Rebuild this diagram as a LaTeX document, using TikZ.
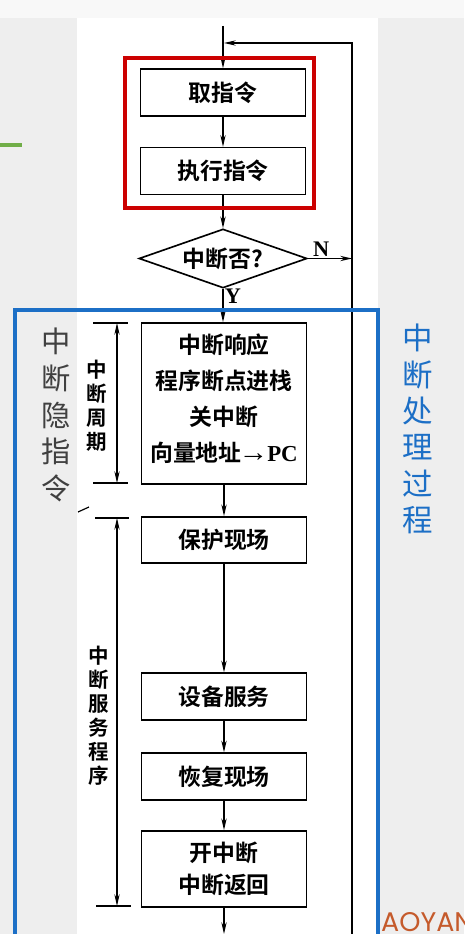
\documentclass[tikz,border=0pt]{standalone}
\usepackage{fontspec}
\usepackage{tikz}
\usetikzlibrary{shapes.geometric,arrows.meta}
\setmainfont{Liberation Serif}
\setsansfont{Poppins}
\newfontfamily\cjk{Noto Sans CJK SC}[BoldFont={Noto Sans CJK SC Bold}]

\definecolor{slidegray}{HTML}{EEEEEE}
\definecolor{frred}{HTML}{CC0000}
\definecolor{frblue}{HTML}{1C6FC6}
\definecolor{barg}{HTML}{70AD47}
\definecolor{wmark}{HTML}{C55A2B}

\newcommand{\boxfont}{\cjk\bfseries\fontsize{19.5}{31}\selectfont}

\tikzset{
  box/.style={draw, line width=1.4pt, minimum width=4.95cm, minimum height=1.4cm,
    inner sep=0pt, align=center, font=\boxfont},
  decision/.style={draw, diamond, aspect=2.85, line width=1.4pt, minimum width=5.04cm,
    minimum height=1.77cm, inner sep=0pt, font=\boxfont},
  flow/.style={line width=1.2pt, -{Stealth[length=10pt,width=4.5pt]}},
  dimtick/.style={line width=1.2pt},
  dimline/.style={line width=1.1pt, {Stealth[length=10pt,width=4.5pt]}-{Stealth[length=10pt,width=4.5pt]}},
  sidelabel/.style={align=center, inner sep=0pt, font=\cjk\bfseries\fontsize{17.5}{20.5}\selectfont},
  yn/.style={font=\bfseries\fontsize{19}{19}\selectfont, inner sep=1pt}
}

\begin{document}
\begin{tikzpicture}[x=0.03cm,y=-0.03cm]
\useasboundingbox (0,0) rectangle (464,934);

% slide background and scanned page
\fill[slidegray] (0,0) rectangle (464,934);
\fill[white!60!slidegray] (0,0) rectangle (464,18);
\fill[white] (77,18) rectangle (378,934);
\fill[barg] (0,143) rectangle (22,147);

% flow boxes
\node[box] (fetch) at (223,92.5) {取指令};
\node[box] (exec) at (223,171) {执行指令};
\node[decision] (ask) at (223,258.5) {中断否?};
\node[box, minimum height=4.83cm] (resp) at (224,403.5)
  {中断响应\\程序断点进栈\\关中断\\向量地址{\normalfont\bfseries\kern-2.5pt\scalebox{1.3}[1.2]{→}\kern-1pt PC}\\[-21pt]\mbox{}};
\node[box, minimum height=1.38cm] (save) at (224,540) {保护现场};
\node[box] (serve) at (224,696.5) {设备服务};
\node[box] (restore) at (224,776.5) {恢复现场};
\node[box, minimum height=2.28cm, font=\cjk\bfseries\fontsize{19.5}{27}\selectfont] (ret) at (224,869) {开中断\\中断返回};

% loop and connectors
\coordinate (top) at (223,26);
\coordinate (join) at (224,43);
\coordinate (loopT) at (352,43);
\coordinate (loopB) at (352,940);
\coordinate (nret) at (352,258.5);
\coordinate (bottom) at (224,934);

\draw[flow] (top) -- (fetch);
\draw[flow] (loopB) -- (loopT) -- (join);
\draw[flow] (fetch) -- (exec);
\draw[flow] (exec) -- (ask);
\draw[flow] (ask.east) -- node[yn, pos=0.3, above] {N} (nret);
\draw[flow] (ask.south) -- node[yn, pos=0.22, right] {Y} (resp.north -| ask.south);
\draw[flow] (resp) -- (save);
\draw[flow] (save) -- (serve);
\draw[flow] (serve) -- (restore);
\draw[flow] (restore) -- (ret);
\draw[flow] (ret) -- (bottom);

% dimension: interrupt cycle
\coordinate (c1a) at (93,323);
\coordinate (c1b) at (128,323);
\coordinate (c1c) at (93,483);
\coordinate (c1d) at (128,483);
\draw[dimtick] (c1a) -- (c1b);
\draw[dimtick] (c1c) -- (c1d);
\draw[dimline] (117,323) -- (117,483);
\node[sidelabel] (cyc) at (97,406) {中\\断\\周\\期};

% dimension: service routine
\coordinate (c2a) at (95,518);
\coordinate (c2b) at (129,518);
\coordinate (c2c) at (96,906);
\coordinate (c2d) at (131,906);
\draw[dimtick] (c2a) -- (c2b);
\draw[dimtick] (c2c) -- (c2d);
\draw[dimline] (117,518) -- (117,906);
\node[sidelabel] (srv) at (99,716) {中\\断\\服\\务\\程\\序};
\draw[line width=1pt] (78,512) -- (89,507);

% frames
\draw[frred, line width=2.6pt] (125,58) rectangle (314,208);
\draw[frblue, line width=3.2pt] (15,310) rectangle (378,950);

% slide labels
\node[align=center, inner sep=0pt, text=black!75,
  font=\cjk\fontsize{25}{31.5}\selectfont] (hid) at (56,415) {中\\断\\隐\\指\\令};
\node[align=center, inner sep=0pt, text=frblue,
  font=\cjk\fontsize{26}{31}\selectfont] (proc) at (418,429) {中\\断\\处\\理\\过\\程};
\node[anchor=base west, inner sep=0pt, text=wmark,
  font=\sffamily\fontsize{23}{23}\selectfont] (mark) at (381,931) {AOYAN};

\end{tikzpicture}
\end{document}
